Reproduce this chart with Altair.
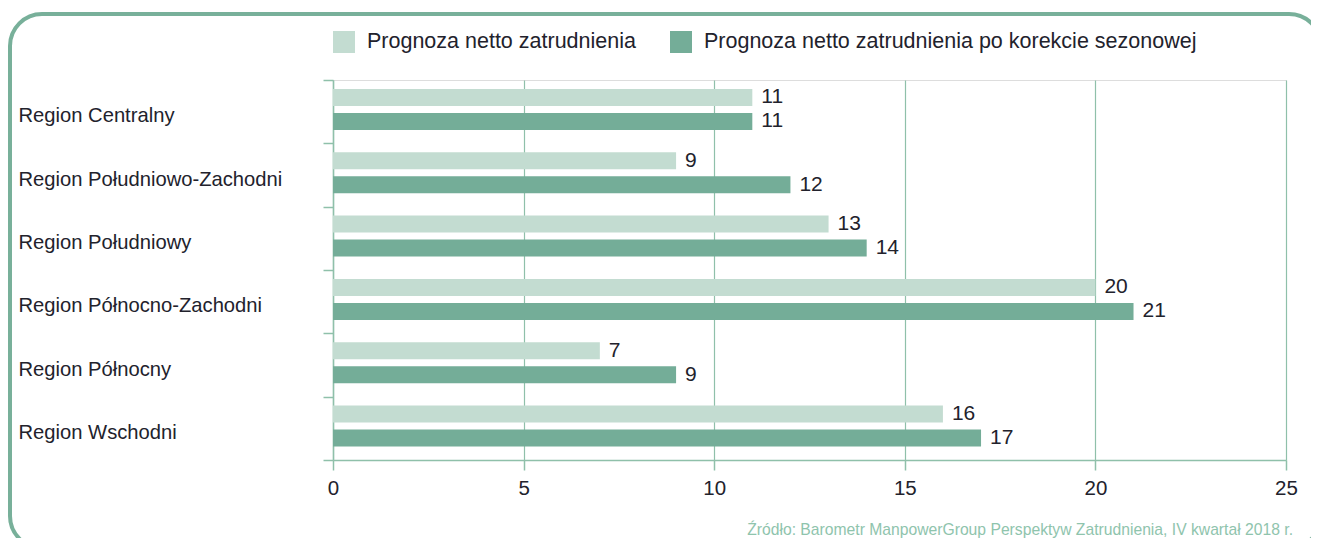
import altair as alt
import pandas as pd

regions = [
    "Region Centralny",
    "Region Południowo-Zachodni",
    "Region Południowy",
    "Region Północno-Zachodni",
    "Region Północny",
    "Region Wschodni",
]
net_forecast = [11, 9, 13, 20, 7, 16]
adjusted_forecast = [11, 12, 14, 21, 9, 17]
series = [
    "Prognoza netto zatrudnienia",
    "Prognoza netto zatrudnienia po korekcie sezonowej",
]
x_ticks = [0, 5, 10, 15, 20, 25]
source_text = "Źródło: Barometr ManpowerGroup Perspektyw Zatrudnienia, IV kwartał 2018 r."

rows = []
for r, a, b in zip(regions, net_forecast, adjusted_forecast):
    rows.append({"region": r, "series": series[0], "value": a})
    rows.append({"region": r, "series": series[1], "value": b})
df = pd.DataFrame(rows)

LIGHT = "#c3dcd1"
DARK = "#74ad98"
GRID = "#8fc0aa"
FRAME = "#78b09a"
TEXT = "#22222c"
FONT = "Liberation Sans"

base = alt.Chart(df).encode(
    y=alt.Y(
        "region:N",
        sort=regions,
        scale=alt.Scale(paddingInner=0, paddingOuter=0),
        axis=alt.Axis(
            title=None,
            domain=True,
            domainColor=GRID,
            domainWidth=1.5,
            ticks=True,
            tickColor=GRID,
            tickWidth=1.5,
            tickSize=10,
            tickBand="extent",
            labelAlign="left",
            labelPadding=305,
            labelFontSize=20.2,
            labelColor=TEXT,
            labelFont=FONT,
            labelLimit=400,
            labelOffset=4,
            grid=False,
        ),
    ),
    yOffset=alt.YOffset(
        "series:N",
        sort=series,
        scale=alt.Scale(paddingInner=0.29, paddingOuter=0.465, align=0.4),
    ),
    x=alt.X(
        "value:Q",
        scale=alt.Scale(domain=[0, 25], nice=False),
        axis=alt.Axis(
            values=x_ticks,
            title=None,
            grid=True,
            gridColor=GRID,
            gridWidth=1.2,
            domainColor=GRID,
            domainWidth=1.5,
            tickColor=GRID,
            tickWidth=1.5,
            tickSize=10,
            labelFontSize=20.5,
            labelPadding=8,
            labelColor=TEXT,
            labelFont=FONT,
            labelFlush=False,
        ),
    ),
)

bars = base.mark_bar(opacity=1).encode(
    color=alt.Color(
        "series:N",
        sort=series,
        scale=alt.Scale(domain=series, range=[LIGHT, DARK]),
        legend=alt.Legend(
            title=None,
            orient="none",
            legendX=0,
            legendY=-49,
            direction="horizontal",
            symbolType="square",
            symbolSize=484,
            symbolStrokeWidth=0,
            symbolOpacity=1,
            labelFontSize=21.5,
            labelFont=FONT,
            labelColor=TEXT,
            labelOffset=12,
            columnPadding=34,
            padding=0,
            labelLimit=700,
        ),
    )
)

labels = base.mark_text(
    align="left", baseline="middle", dx=9, fontSize=21, color=TEXT, font=FONT
).encode(text="value:Q")

one = pd.DataFrame({"k": [0]})
frame = alt.Chart(one).mark_rect(
    fillOpacity=0, stroke=FRAME, strokeWidth=4, cornerRadius=32
).encode(
    x=alt.value(-323), x2=alt.value(988), y=alt.value(-66), y2=alt.value(468)
)

source = alt.Chart(one).mark_text(
    text=source_text,
    align="right",
    baseline="alphabetic",
    fontSize=15.7,
    color="#8fc4ad",
    font=FONT,
).encode(x=alt.value(960), y=alt.value(455))

chart = (
    alt.layer(frame, bars, labels, source)
    .properties(
        width=953,
        height=380,
        autosize=alt.AutoSizeParams(type="none"),
        padding={"left": 325, "top": 72, "right": 25, "bottom": 78},
    )
    .configure_view(stroke=None)
    .configure(font=FONT)
)

chart.save("out.html", embed_options={"renderer": "svg", "actions": False})
